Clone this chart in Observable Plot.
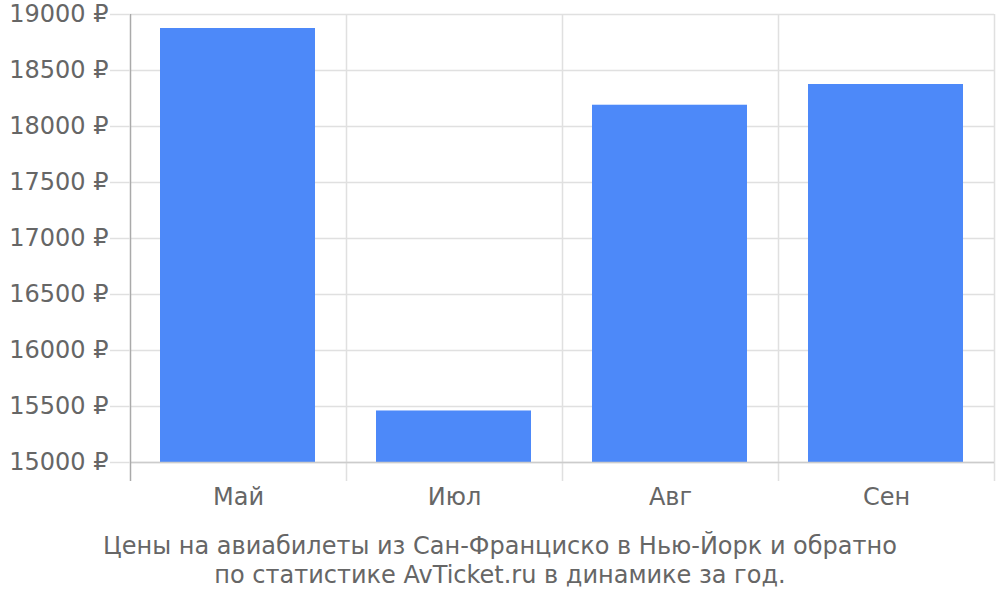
<!DOCTYPE html>
<html>
<head>
<meta charset="utf-8">
<script src="https://cdn.jsdelivr.net/npm/d3@7"></script>
<script src="https://cdn.jsdelivr.net/npm/@observablehq/plot@0.6"></script>
<style>
  html, body { margin: 0; padding: 0; background: #fff; }
  #chart svg { display: block; }
  #caption {
    width: 1000px; text-align: center; color: #666;
    font-family: "DejaVu Sans", sans-serif; font-size: 24px; line-height: 29px;
    margin-top: 17px;
  }
</style>
</head>
<body>
<div id="chart"></div>
<div id="caption">Цены на авиабилеты из Сан-Франциско в Нью-Йорк и обратно<br>по статистике AvTicket.ru в динамике за год.</div>
<script>
const months = ["Май", "Июл", "Авг", "Сен"];
const prices = [18875, 15460, 18190, 18375];
const yTicks = [15000, 15500, 16000, 16500, 17000, 17500, 18000, 18500, 19000];

const data = months.map((m, i) => ({month: m, price: prices[i]}));

const W = 1000, H = 515, mL = 130, mR = 6, mT = 14, mB = 34;
const step = (W - mL - mR) / months.length;

const chart = Plot.plot({
  width: W, height: H,
  marginLeft: mL, marginRight: mR, marginTop: mT, marginBottom: mB,
  style: {fontFamily: "DejaVu Sans, sans-serif", fontSize: "24px", color: "#666", background: "#fff"},
  x: {type: "band", domain: months, padding: 0, label: null},
  y: {domain: [15000, 19000], range: [462, mT], label: null},
  marks: [
    Plot.ruleY(yTicks, {y: d => d, stroke: "#e0e0e0", strokeWidth: 1.5}),
    Plot.ruleX(months.slice(1), {x: d => d, dx: -step / 2, stroke: "#e0e0e0", strokeWidth: 1.5}),
    Plot.ruleX(months.slice(-1), {x: d => d, dx: step / 2, stroke: "#e0e0e0", strokeWidth: 1.5}),
    Plot.barY(data, {x: "month", y1: 15000, y2: "price", fill: "#4d89f9", insetLeft: 30, insetRight: 31}),
    Plot.ruleY([15000], {stroke: "#cccccc", strokeWidth: 1.5}),
    Plot.ruleX(months.slice(0, 1), {x: d => d, dx: -step / 2, stroke: "#aaaaaa", strokeWidth: 1.5}),
    Plot.axisY({ticks: yTicks, tickSize: 20, tickPadding: 2, tickFormat: d => `${d} ₽`, stroke: "#e0e0e0", strokeWidth: 1.5, fill: "#666"}),
    Plot.axisX({tickSize: 0, tickPadding: 6, fill: "#666"})
  ]
});
document.getElementById("chart").appendChild(chart);
</script>
</body>
</html>
